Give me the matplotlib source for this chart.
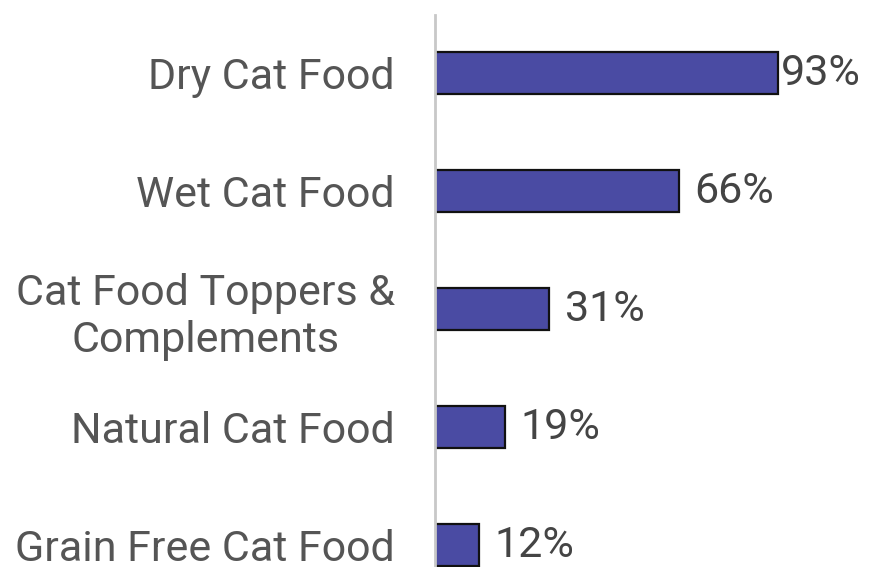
import matplotlib.pyplot as plt

categories = ["Dry Cat Food", "Wet Cat Food", "Cat Food Toppers &\nComplements",
              "Natural Cat Food", "Grain Free Cat Food"]
shares = [93, 66, 31, 19, 12]

plt.rcParams['font.family'] = ['Roboto', 'DejaVu Sans']

fig = plt.figure(figsize=(8.69, 5.67), dpi=100)
ax = fig.add_axes([435 / 869, 0, 434 / 869, 552 / 567])

pos = list(range(len(categories)))
ax.barh(pos, shares, height=0.356, color="#4a4ba3", edgecolor="#111111", linewidth=1.6)

ax.set_xlim(0, 117.6)
ax.set_ylim(4.186, -0.492)
ax.set_yticks(pos)
ax.set_yticklabels(categories, fontsize=31, color="#555555", ha="right",
                   multialignment="center")
ax.tick_params(axis="y", length=0, pad=29)
ax.set_xticks([])

for s in ["top", "right", "bottom"]:
    ax.spines[s].set_visible(False)
ax.spines["left"].set_color("#c8c8c8")
ax.spines["left"].set_linewidth(2)

for y, v in zip(pos, shares):
    off = 2 if v > 90 else 11
    ax.annotate(f"{v}%", (v, y), xytext=(off, 0), textcoords="offset points",
                va="center", ha="left", fontsize=31, color="#444444")

fig.savefig("out.png", dpi=100)
